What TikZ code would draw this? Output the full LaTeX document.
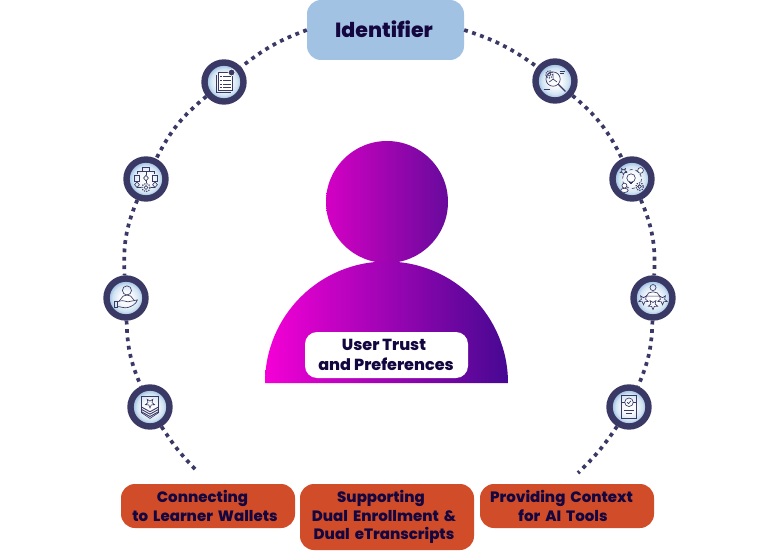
\documentclass[tikz,border=0pt]{standalone}
\usepackage{fontspec}
\setmainfont{Poppins}[BoldFont={Poppins ExtraBold}]
\usetikzlibrary{arrows}
\definecolor{inkblue}{HTML}{14063F}
\definecolor{ringblue}{HTML}{3A3965}
\definecolor{boxblue}{HTML}{A2C2E3}
\definecolor{boxrust}{HTML}{D14D29}
\definecolor{headleft}{HTML}{D400C4}
\definecolor{headright}{HTML}{680A9C}
\definecolor{bodyleft}{HTML}{F500D6}
\definecolor{bodyright}{HTML}{460892}
\definecolor{glowpale}{HTML}{F6F9FC}
\definecolor{glowmid}{HTML}{D2E3F2}
\definecolor{glowedge}{HTML}{8FB8E0}
\pgfdeclareradialshading{iconglow}{\pgfpoint{0bp}{0bp}}{color(0bp)=(white); color(9bp)=(glowpale); color(17bp)=(glowmid); color(23bp)=(glowedge); color(50bp)=(glowedge)}
\newcommand{\tinystar}[3]{\draw (#1,#2) +(90:#3) -- +(126:.45*#3) -- +(162:#3) -- +(198:.45*#3) -- +(234:#3) -- +(270:.45*#3) -- +(306:#3) -- +(342:.45*#3) -- +(18:#3) -- +(54:.45*#3) -- cycle;}
\newcommand{\tinygear}[3]{\draw (#1,#2) circle (.45*#3); \draw[line width=1.1pt,dash pattern=on 1.2pt off 1.2pt] (#1,#2) circle (.95*#3);}
\tikzset{
  pics/checklist/.style={code={
    \draw (-8,-7) -- (-8,11) -- (7,11);
    \draw[fill=white] (-6,-10) rectangle (9,9);
    \foreach \y in {-6,-2,2,6} {\draw (-4,\y) -- (-2.5,\y); \draw (-1,\y) -- (7,\y);}
    \draw[fill=ringblue,draw=white] (8,-10) circle (3.6);
  }},
  pics/flowchart/.style={code={
    \draw (-4,-12) rectangle (4,-8);
    \draw (-9,-5) -- (-9,-8) -- (9,-8) -- (9,-5) (0,-8) -- (0,-4);
    \draw (-12,-4) rectangle (-7,2) (7,-4) rectangle (12,2);
    \draw (0,-4) -- (2.5,-1) -- (0,2) -- (-2.5,-1) -- cycle;
    \draw (-9.5,3) -- (-7,6) -- (-9.5,9) -- (-12,6) -- cycle (9.5,3) -- (12,6) -- (9.5,9) -- (7,6) -- cycle;
    \draw (0,2) -- (0,4) (-9.5,9) -- (-5,9) (9.5,9) -- (5,9);
    \tinygear{0}{9}{4.5}
  }},
  pics/handperson/.style={code={
    \draw (1,-8) circle (4.8);
    \draw (-7,3) -- (-3,-2) .. controls (-1,-3.5) and (3,-3.5) .. (5,-2) -- (9,3);
    \draw (-12,3) rectangle (-9,10);
    \draw (-9,4) .. controls (-4,2) and (-2,3) .. (2,4) -- (12,2) .. controls (11,6) and (6,9) .. (2,10) .. controls (-2,11) and (-6,9) .. (-9,9);
  }},
  pics/badge/.style={code={
    \draw (-9,-11) -- (9,-11) -- (9,6) -- (0,12) -- (-9,6) -- cycle;
    \tinystar{0}{-4}{5}
    \foreach \y in {2,4.5,7} {\draw[line width=.9pt] (-9,\y-2) -- (0,\y+3) -- (9,\y-2);}
  }},
  pics/magnifier/.style={code={
    \draw (-2,-2) circle (7.5);
    \draw[line width=1.3pt] (3.5,3.5) -- (11,11);
    \tinygear{-6}{-7}{4}
    \draw (-2,-2) -- (-2,-6) (-2,-2) -- (2,1) (-2,-2) -- (-6,1);
    \draw[line width=1.1pt] (5,-10) -- (11,-10) (5,-7.5) -- (9,-7.5) (-12,9) -- (-5,9);
  }},
  pics/bulbring/.style={code={
    \draw (-1,-1) circle (4.5);
    \draw (-3,3) -- (1,3) (-2.5,5) -- (.5,5);
    \draw[dashed] (0,0) circle (10);
    \tinystar{-9}{-8}{3.6}
    \draw[fill=white] (9,-9) circle (3);
    \draw[fill=white] (-8,7) circle (2.6) (-8,12) ellipse (4 and 2.2);
    \tinygear{8}{8}{4.2}
  }},
  pics/personstars/.style={code={
    \draw (0,-11) circle (3.2);
    \draw (-7,-2) .. controls (-6,-8) and (6,-8) .. (7,-2) -- cycle;
    \tinystar{-10}{2}{5.2}
    \tinystar{10}{2}{5.2}
    \tinystar{0}{7}{5.2}
  }},
  pics/certificate/.style={code={
    \draw (-8,-12) rectangle (8,12);
    \draw (0,-5) circle (4.5);
    \draw (-2,-5) -- (-.5,-3.5) -- (2,-6.5);
    \draw (-8,-5) -- (-4.5,-5) (4.5,-5) -- (8,-5);
    \draw[line width=.9pt] (-5,4) -- (5,4) (-3.5,7) -- (3.5,7);
  }}
}
\begin{document}
\begin{tikzpicture}[x=1pt,y=-1pt,>=stealth',
    trail/.style={draw=ringblue,line width=3.7pt,dash pattern=on 3.8pt off 4.6pt},
    ringnode/.style={circle,draw=ringblue,line width=6.4pt,minimum size=39pt,inner sep=0pt,
      shading=iconglow},
    icon/.style={draw=ringblue,line width=.65pt,scale=.95},
    rustbox/.style={fill=boxrust,rounded corners=14pt,text width=174pt,align=center,
      inner sep=0pt,font=\fontsize{15}{18.5}\selectfont\bfseries,text=inkblue}]
  \useasboundingbox (0,0) rectangle (769,551);

  % head and shoulders
  \node[circle,minimum size=122pt,inner sep=0pt,left color=headleft,right color=headright] (head) at (387,202) {};
  \path[left color=bodyleft,right color=bodyright] (265,383) arc[start angle=180,end angle=360,radius=121.5] -- cycle;
  \node[fill=white,rounded corners=12pt,minimum width=163pt,minimum height=46pt,inner sep=0pt,align=center,text=inkblue,font=\fontsize{16}{19.5}\selectfont\bfseries] (trust) at (386.5,355) {User Trust\kern5pt\\and Preferences\kern1pt};

  % boxes
  \node[fill=boxblue,rounded corners=14pt,minimum width=157pt,minimum height=60pt,inner sep=0pt,text=inkblue,font=\fontsize{20.5}{24}\selectfont\bfseries] (id) at (385.5,30) {\raisebox{2pt}{Identifier}\kern3pt};
  \node[rustbox,minimum height=44pt] (wallets) at (208,506) {Connecting\kern11pt\\to Learner Wallets\kern6pt};
  \node[rustbox,minimum height=66pt] (dual) at (387,517) {Supporting\kern12pt\\Dual Enrollment \&\kern6pt\\Dual eTranscripts\kern6pt};
  \node[rustbox,minimum height=44pt] (context) at (567,506) {Providing Context\kern11pt\\for AI Tools\kern8pt};

  % ring nodes
  \node[ringnode] (L1) at (224,82) {};
  \node[ringnode] (L2) at (146,179) {};
  \node[ringnode] (L3) at (126,298) {};
  \node[ringnode] (L4) at (150,407) {};
  \node[ringnode] (R1) at (555,81) {};
  \node[ringnode] (R2) at (632,179) {};
  \node[ringnode] (R3) at (653,298) {};
  \node[ringnode] (R4) at (629,407) {};
  \coordinate (Lend) at (198,472);
  \coordinate (Rend) at (578,473);

  \path[trail] (id.west) edge[bend right=9] (L1)
    (L1) edge[bend right=12] (L2)
    (L2) edge[bend right=13] (L3)
    (L3) edge[bend right=11] (L4)
    (L4) edge[bend right=6] (Lend)
    (id.east) edge[bend left=9] (R1)
    (R1) edge[bend left=12] (R2)
    (R2) edge[bend left=13] (R3)
    (R3) edge[bend left=11] (R4)
    (R4) edge[bend left=6] (Rend);

  % icons
  \pic[icon] at (224,82) {checklist};
  \pic[icon] at (146,179) {flowchart};
  \pic[icon] at (126,298) {handperson};
  \pic[icon] at (150,407) {badge};
  \pic[icon] at (555,81) {magnifier};
  \pic[icon] at (632,179) {bulbring};
  \pic[icon] at (653,298) {personstars};
  \pic[icon] at (629,407) {certificate};
\end{tikzpicture}
\end{document}
